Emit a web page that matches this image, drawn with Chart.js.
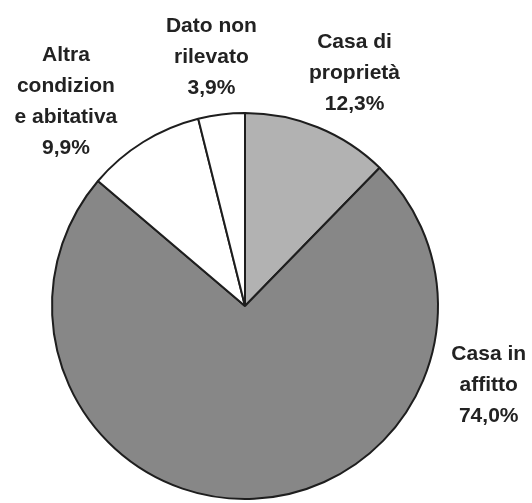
<!DOCTYPE html>
<html lang="it">
<head>
    <meta charset="UTF-8">
    <title>Condizione abitativa</title>
    <script src="https://cdn.jsdelivr.net/npm/chart.js"></script>
    <style>
        html, body {
            margin: 0;
            padding: 0;
            background: #ffffff;
        }
        .wrap {
            width: 532px;
            height: 503px;
        }
    </style>
</head>
<body>
    <div class="wrap">
        <canvas id="pieChart" width="532" height="503"></canvas>
    </div>

    <script>
        const categories = ["Casa di proprietà", "Casa in affitto", "Altra condizione abitativa", "Dato non rilevato"];
        const categoryLines = [
            ["Casa di", "proprietà"],
            ["Casa in", "affitto"],
            ["Altra", "condizion", "e abitativa"],
            ["Dato non", "rilevato"]
        ];
        const values = [12.3, 74.0, 9.9, 3.9];
        const sliceColors = ["#b2b2b2", "#878787", "#ffffff", "#ffffff"];

        // where each label block sits: angle from 12 o'clock (deg, clockwise) and distance as a multiple of the radius
        const labelAngles = [25.2, 107.9, 318.7, 352.3];
        const labelDistance = [1.333, 1.327, 1.406, 1.30];

        function formatPct(v) {
            return v.toFixed(1).replace(".", ",") + "%";
        }

        const outsideLabels = {
            id: "outsideLabels",
            afterDatasetsDraw(chart) {
                const ctx = chart.ctx;
                const arcs = chart.getDatasetMeta(0).data;
                const lineH = 31;
                ctx.save();
                ctx.font = "bold 21px 'Liberation Sans', Arial, sans-serif";
                ctx.fillStyle = "#222222";
                ctx.textAlign = "center";
                ctx.textBaseline = "middle";
                arcs.forEach((arc, i) => {
                    const a = labelAngles[i] * Math.PI / 180;
                    const d = arc.outerRadius * labelDistance[i];
                    const cx = arc.x + Math.sin(a) * d;
                    const cy = arc.y - Math.cos(a) * d;
                    const lines = categoryLines[i].concat([formatPct(values[i])]);
                    const top = cy - (lines.length - 1) * lineH / 2;
                    lines.forEach((t, j) => ctx.fillText(t, cx, top + j * lineH));
                });
                ctx.restore();
            }
        };

        new Chart(document.getElementById("pieChart"), {
            type: "pie",
            data: {
                labels: categories,
                datasets: [{
                    data: values,
                    backgroundColor: sliceColors,
                    borderColor: "#1e1e1e",
                    borderWidth: 2
                }]
            },
            options: {
                responsive: false,
                animation: false,
                layout: {
                    padding: { top: 112, bottom: 3, left: 51, right: 93 }
                },
                plugins: {
                    legend: { display: false },
                    tooltip: { enabled: false }
                }
            },
            plugins: [outsideLabels]
        });
    </script>
</body>
</html>
